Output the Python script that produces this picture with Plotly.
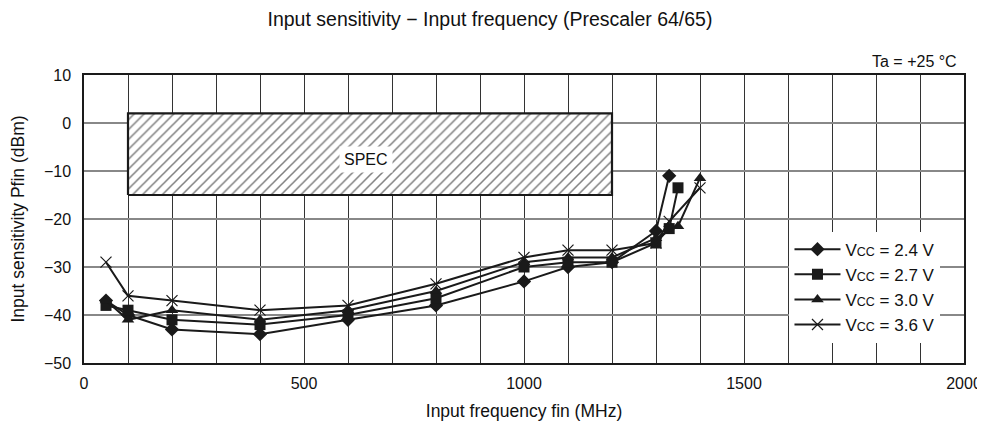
import plotly.graph_objects as go

# ---- data ----
freq_24 = [50, 100, 200, 400, 600, 800, 1000, 1100, 1200, 1300, 1330]
pfin_24 = [-37, -40, -43, -44, -41, -38, -33, -30, -29, -22.5, -11]
freq_27 = [50, 100, 200, 400, 600, 800, 1000, 1100, 1200, 1300, 1330, 1350]
pfin_27 = [-38, -39, -41, -42, -40, -36.5, -30, -29, -29, -25, -22, -13.5]
freq_30 = [50, 100, 200, 400, 600, 800, 1000, 1100, 1200, 1300, 1350, 1400]
pfin_30 = [-37, -41, -39, -41, -39, -35, -29, -28, -28, -24, -21.5, -11.5]
freq_36 = [50, 100, 200, 400, 600, 800, 1000, 1100, 1200, 1300, 1330, 1400]
pfin_36 = [-29, -36, -37, -39, -38, -33.5, -28, -26.5, -26.5, -25, -20.5, -13.5]

series_names = ["2.4 V", "2.7 V", "3.0 V", "3.6 V"]
spec_freq = [100, 1200]
spec_pfin = [-15, 2]
y_tick_vals = [10, 0, -10, -20, -30, -40, -50]
y_tick_text = ["10", "0", "−10", "−20", "−30", "−40", "−50"]

FONT = "Liberation Sans, Arial, sans-serif"
INK = "#1a1a1a"
TXT = "#111111"

fig = go.Figure()

# SPEC hatched box
fig.add_trace(go.Scatter(
    x=[spec_freq[0], spec_freq[1], spec_freq[1], spec_freq[0], spec_freq[0]],
    y=[spec_pfin[0], spec_pfin[0], spec_pfin[1], spec_pfin[1], spec_pfin[0]],
    mode="lines", fill="toself", fillcolor="white",
    fillpattern=dict(shape="/", fgcolor="#000000", bgcolor="white", size=7, solidity=0.22),
    line=dict(color=INK, width=2.2), showlegend=False, hoverinfo="skip"))

symbols = ["diamond", "square", "triangle-up", "x-thin-open"]
xs = [freq_24, freq_27, freq_30, freq_36]
ys = [pfin_24, pfin_27, pfin_30, pfin_36]
for i, (x, y, s, n) in enumerate(zip(xs, ys, symbols, series_names)):
    mk = dict(symbol=s, size=11, color=INK)
    if s == "x-thin-open":
        mk["line"] = dict(color=INK, width=1.2)
    fig.add_trace(go.Scatter(
        x=x, y=y, mode="lines+markers", marker=mk,
        line=dict(color=INK, width=2),
        name="V<span style='font-size:12.5px'>CC</span> = " + n,
        legendgroup="g%d" % i))

fig.add_annotation(x=640, y=-7.5, text="SPEC", showarrow=False, bgcolor="white",
                   font=dict(family=FONT, size=16, color=TXT), borderpad=4)
fig.add_annotation(x=1, y=1, xref="paper", yref="paper", xanchor="right", yanchor="bottom",
                   text="Ta = +25 °C", showarrow=False, yshift=3, xshift=-5,
                   font=dict(family=FONT, size=16, color=TXT))

# the page body adds an 8px offset; figure size and margins compensate
W, H = 977, 420
fig.update_layout(
    width=W, height=H,
    margin=dict(l=76, r=21, t=67, b=65, autoexpand=False),
    paper_bgcolor="white", plot_bgcolor="white",
    font=dict(family=FONT, size=16, color=TXT),
    title=dict(text="Input sensitivity − Input frequency (Prescaler 64/65)",
               x=(490 - 8) / W, xanchor="center", y=1 - 11 / H, yanchor="middle",
               font=dict(family=FONT, size=19.5, color=TXT)),
    legend=dict(x=(793 - 84) / 880 - 0.004, y=0.456, xanchor="left", yanchor="top", bgcolor="white",
                borderwidth=0, itemwidth=46, tracegroupgap=0, traceorder="grouped",
                font=dict(family=FONT, size=17, color=TXT)),
    xaxis=dict(range=[0, 2000], dtick=500, tick0=0, showgrid=True, gridcolor="#333",
               gridwidth=1, minor=dict(dtick=100, showgrid=True, gridcolor="#333", gridwidth=1),
               showline=True, linecolor=INK, linewidth=1.5, mirror=True, zeroline=False,
               ticks="", ticklabelstandoff=5, automargin=False,
               tickfont=dict(size=16),
               title=dict(text="Input frequency fin (MHz)", font=dict(size=17.5), standoff=14)),
    yaxis=dict(range=[-50, 10], tickvals=y_tick_vals, ticktext=y_tick_text,
               showgrid=True, gridcolor="#888", gridwidth=1.5,
               showline=True, linecolor=INK, linewidth=1.5, mirror=True, zeroline=False,
               ticks="", ticklabelstandoff=8, automargin=False,
               tickfont=dict(size=16),
               title=dict(text="Input sensitivity Pfin (dBm)", font=dict(size=17.5), standoff=21)),
)

fig.write_html("out.html")
